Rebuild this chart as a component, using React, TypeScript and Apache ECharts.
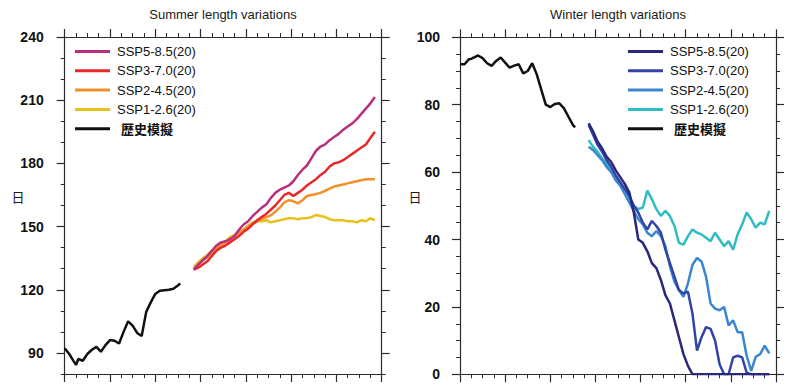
import React, { useEffect, useRef } from "react";
import * as echarts from "echarts";

// ---------- data ----------
const histYears = [1960, 1962, 1964, 1965, 1966, 1968, 1970, 1972, 1974, 1976, 1978, 1980, 1982, 1984, 1986, 1988, 1990, 1992, 1994, 1996, 1998, 2000, 2002, 2004, 2006, 2008, 2010, 2011];
const sspYears = [2017, 2019, 2021, 2023, 2025, 2027, 2029, 2031, 2033, 2035, 2037, 2039, 2041, 2043, 2045, 2047, 2049, 2051, 2053, 2055, 2057, 2059, 2061, 2063, 2065, 2067, 2069, 2071, 2073, 2075, 2077, 2079, 2081, 2083, 2085, 2087, 2089, 2091, 2093, 2095, 2097];

const seriesNames = ["SSP5-8.5(20)", "SSP3-7.0(20)", "SSP2-4.5(20)", "SSP1-2.6(20)"];
const histName = "歴史模擬";

// Summer (days)
const summerHist = [92.2, 89.5, 86, 84.3, 87.1, 86.3, 89.5, 91.5, 92.9, 90.6, 93.7, 96.1, 95.8, 94.5, 100, 105, 103, 99.5, 98, 109.5, 114, 118, 119.5, 119.8, 120, 120.5, 122, 123];
const summerSsp585 = [129.5, 132, 134, 136, 138.5, 141, 142.5, 143, 144, 145.5, 148.5, 151, 152.5, 155, 157, 159, 160.5, 163.5, 166, 167.5, 168.5, 169.5, 171.5, 174.5, 177, 179, 182.5, 186, 188, 189, 191, 192.5, 194, 196, 197.5, 199, 201, 203.5, 206, 208.5, 211.5];
const summerSsp370 = [129.5, 130.5, 132, 133.5, 136, 138.5, 140, 141, 142.5, 144, 145.5, 147.5, 149, 151, 153, 154.5, 156, 158, 160, 162.5, 165, 166, 164.5, 166, 167.5, 169.5, 171, 172.5, 174.5, 176, 178.5, 180, 180.5, 181.5, 183, 184.5, 186, 187.5, 189, 192, 195];
const summerSsp245 = [130, 132, 134, 135.5, 137.5, 139.5, 141, 142.5, 144, 145.5, 147, 148.5, 150, 151.5, 152.5, 153.5, 154.5, 155.3, 157, 159, 161.5, 162.5, 162, 161, 162.5, 164.5, 165, 165.5, 166, 167, 168, 169, 169.5, 170, 170.5, 171, 171.5, 172, 172.5, 172.5, 172.5];
const summerSsp126 = [131, 133, 135, 136.5, 138.5, 140, 141.5, 143, 145, 146, 147, 148.5, 150.5, 152, 152.5, 152.5, 153, 152, 152.5, 153, 153.5, 154, 154, 153.5, 154, 154, 154.5, 155.5, 155, 154.5, 153.5, 153, 153, 153, 152.5, 152.5, 152, 153, 152.5, 154, 153];

// Winter (days)
const winterHist = [92, 92, 93.5, 93.6, 94, 94.6, 93.8, 92.3, 91.5, 93, 94, 92.5, 91, 91.6, 92, 89.3, 90, 92.3, 89, 84.5, 80, 79.3, 80.2, 80.4, 79, 76.5, 74, 73.3];
const winterSsp585 = [74.5, 72, 69, 67, 64.5, 63, 60.5, 58.5, 56.5, 54, 48, 40, 39, 36.5, 33, 31.5, 28, 23.5, 21, 16, 11, 6, 2.5, 0, 0, 0, 0, 0, 0, 0, 0, 0, 0, 0, 0, 0, 0, 0, 0, 0, 0];
const winterSsp370 = [74, 71, 68, 66, 63.5, 61.5, 59, 57, 55, 53, 50, 48, 45, 43, 45.5, 44, 42, 37, 33, 29, 25, 24, 24.5, 18, 7, 11, 14, 13.5, 10, 3, 0, 0, 5, 5.5, 5, 0.5, 0, 0, 0, 0, 0];
const winterSsp245 = [67.5, 66.5, 65, 63.5, 61.5, 60, 57.5, 56, 53.5, 51, 48.5, 46, 44.5, 42, 41, 42.5, 41, 38, 32, 27.5, 25, 23, 27, 32.5, 34.5, 33.5, 29, 21, 19.5, 19, 20, 14.5, 16, 12.5, 12.5, 5.5, 1, 5.2, 6, 8.5, 6.2];
const winterSsp126 = [69.5, 67.5, 66, 64, 62.5, 60, 58.5, 56.5, 55, 52.5, 50, 49, 49.5, 54.5, 52, 49, 47, 48.5, 47, 44, 39, 38.5, 41, 43, 42, 41.5, 40.5, 39.5, 42, 40, 38, 39.5, 37, 41.5, 44.5, 48, 46, 43.5, 45, 44.5, 48.5];

const summerMajorTicks = [90, 120, 150, 180, 210, 240];

// ---------- styling ----------
const FONT = "'Liberation Sans', Arial, Helvetica, sans-serif";
const CJK = "'Noto Sans CJK JP', 'Noto Sans CJK SC', sans-serif";
const AX = "#2b2b2b";
const summerColors = ["#b9317c", "#e8292b", "#f2912c", "#e6c21d"];
const winterColors = ["#29287a", "#3443a6", "#3a86d0", "#2fbcc3"];

const zip = (xs: number[], ys: number[]) => xs.map((x, i) => [x, ys[i]]);

function xAxes() {
  const base = {
    type: "value",
    min: 1960,
    max: 2100,
    interval: 20,
    axisLine: { show: true, onZero: false, lineStyle: { color: AX, width: 1.2 } },
    axisTick: { show: true, inside: false, length: 8, lineStyle: { color: AX, width: 1.2 } },
    minorTick: { show: true, splitNumber: 4, length: 4, lineStyle: { color: AX, width: 1 } },
    axisLabel: { show: false },
    splitLine: { show: false },
    minorSplitLine: { show: false },
  };
  return [
    { ...base, position: "bottom" },
    { ...base, position: "top" },
  ];
}

function legendCfg(left: number) {
  return {
    orient: "vertical",
    left,
    top: 43.5,
    padding: 0,
    itemWidth: 35,
    itemHeight: 3,
    itemGap: 3.3,
    icon: "rect",
    selectedMode: false,
    textStyle: { fontFamily: FONT, fontSize: 13, color: "#111", lineHeight: 16, padding: [0, 0, 0, 2] },
    data: [
      ...seriesNames,
      { name: histName, textStyle: { fontFamily: CJK, fontWeight: "bold", fontSize: 13, color: "#111", lineHeight: 16, padding: [0, 0, 0, 6] } },
    ],
  };
}

function lineSeries(name: string, color: string, data: number[][]) {
  return {
    type: "line",
    name,
    data,
    xAxisIndex: 0,
    yAxisIndex: 0,
    showSymbol: false,
    symbol: "none",
    color,
    itemStyle: { color },
    lineStyle: { color, width: 2.5 },
    emphasis: { disabled: true },
  };
}

function textEl(text: string, x: number, y: number, font: string) {
  return {
    type: "text",
    x,
    y,
    style: { text, font, fill: "#1a1a1a", textAlign: "center", textVerticalAlign: "middle", align: "center", verticalAlign: "middle" },
  };
}

function summerOption() {
  const minorY = {
    type: "value",
    min: 80,
    max: 240,
    interval: 10,
    axisLine: { show: true, onZero: false, lineStyle: { color: AX, width: 1.2 } },
    axisTick: { show: true, inside: false, length: 4, lineStyle: { color: AX, width: 1 } },
    axisLabel: { show: false },
    splitLine: { show: false },
  };
  const majorY = {
    type: "value",
    min: 80,
    max: 240,
    axisLine: { show: false },
    axisTick: { show: true, inside: false, length: 8, customValues: summerMajorTicks, lineStyle: { color: AX, width: 1.2 } },
    axisLabel: { show: false },
    splitLine: { show: false },
  };
  return {
    animation: false,
    backgroundColor: "#ffffff",
    grid: { left: 64.7, top: 37, width: 317, height: 337 },
    xAxis: xAxes(),
    yAxis: [
      { ...minorY, position: "left" },
      {
        ...majorY,
        position: "left",
        axisLabel: { show: true, customValues: summerMajorTicks, margin: 21, fontFamily: FONT, fontSize: 14, fontWeight: "bold", color: "#111" },
      },
      { ...minorY, position: "right" },
      { ...majorY, position: "right" },
    ],
    legend: legendCfg(75),
    graphic: [
      textEl("Summer length variations", 223, 14, `13px ${FONT}`),
      textEl("日", 18, 196, `13px ${CJK}`),
    ],
    series: [
      lineSeries(seriesNames[3], summerColors[3], zip(sspYears, summerSsp126)),
      lineSeries(seriesNames[2], summerColors[2], zip(sspYears, summerSsp245)),
      lineSeries(seriesNames[1], summerColors[1], zip(sspYears, summerSsp370)),
      lineSeries(seriesNames[0], summerColors[0], zip(sspYears, summerSsp585)),
      lineSeries(histName, "#111111", zip(histYears, summerHist)),
    ],
  };
}

function winterOption() {
  const yBase = {
    type: "value",
    min: 0,
    max: 100,
    interval: 20,
    axisLine: { show: true, onZero: false, lineStyle: { color: AX, width: 1.2 } },
    axisTick: { show: true, inside: false, length: 8, lineStyle: { color: AX, width: 1.2 } },
    minorTick: { show: true, splitNumber: 4, length: 4, lineStyle: { color: AX, width: 1 } },
    splitLine: { show: false },
    minorSplitLine: { show: false },
  };
  return {
    animation: false,
    backgroundColor: "#ffffff",
    grid: { left: 68, top: 37.3, width: 316, height: 337 },
    xAxis: xAxes(),
    yAxis: [
      { ...yBase, position: "left", axisLabel: { show: true, margin: 20, fontFamily: FONT, fontSize: 14, fontWeight: "bold", color: "#111" } },
      { ...yBase, position: "right", axisLabel: { show: false } },
    ],
    legend: legendCfg(236),
    graphic: [
      textEl("Winter length variations", 226, 14, `13px ${FONT}`),
      textEl("日", 23, 196, `13px ${CJK}`),
    ],
    series: [
      lineSeries(seriesNames[3], winterColors[3], zip(sspYears, winterSsp126)),
      lineSeries(seriesNames[2], winterColors[2], zip(sspYears, winterSsp245)),
      lineSeries(seriesNames[1], winterColors[1], zip(sspYears, winterSsp370)),
      lineSeries(seriesNames[0], winterColors[0], zip(sspYears, winterSsp585)),
      lineSeries(histName, "#111111", zip(histYears, winterHist)),
    ],
  };
}

function ChartBox({ option, style }: { option: any; style: React.CSSProperties }) {
  const ref = useRef<HTMLDivElement>(null);
  useEffect(() => {
    if (!ref.current) return;
    const chart = echarts.init(ref.current, undefined, { renderer: "svg" });
    chart.setOption(option);
    return () => chart.dispose();
  }, [option]);
  return <div ref={ref} style={style} />;
}

const leftOpt = summerOption();
const rightOpt = winterOption();

export default function App() {
  return (
    <div style={{ position: "fixed", left: 0, top: 0, width: 785, height: 385, background: "#fff" }}>
      <ChartBox option={leftOpt} style={{ position: "absolute", left: 0, top: 0, width: 392, height: 385 }} />
      <ChartBox option={rightOpt} style={{ position: "absolute", left: 392, top: 0, width: 393, height: 385 }} />
    </div>
  );
}
